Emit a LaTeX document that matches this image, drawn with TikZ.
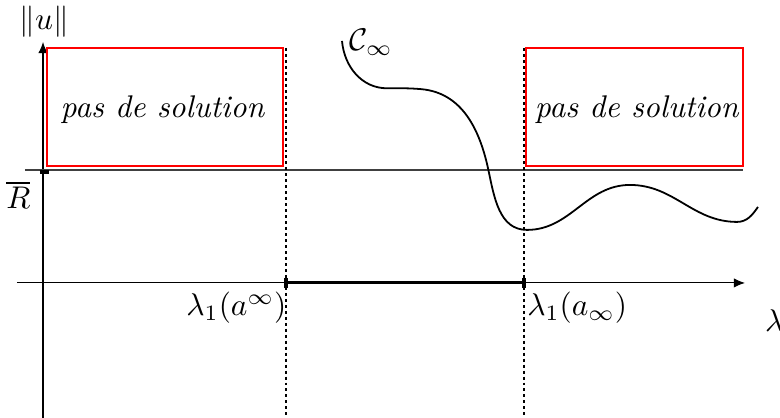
\documentclass[tikz,border=0pt]{standalone}
\usepackage{amsmath,amssymb}
\usepackage{tikz}
\usetikzlibrary{arrows.meta}

\begin{document}
\begin{tikzpicture}[x=1cm,y=1cm,every node/.style={scale=1.05}]
    \useasboundingbox (-0.506,-1.588) rectangle (8.671,3.329);
    % points of the axes
    \coordinate (ybot) at (0,-1.588);
    \coordinate (ytop) at (0,2.835);
    \coordinate (xleft) at (-0.306,0);
    \coordinate (xright) at (8.259,0);
    \coordinate (rleft) at (-0.212,1.329);
    \coordinate (rright) at (8.235,1.329);
    \coordinate (la) at (2.859,0);
    \coordinate (lb) at (5.659,0);
    \draw [line width=0.35pt,-{Latex[length=1.3mm,width=1.1mm]}] (ybot) -- (ytop);
    \draw [line width=0.35pt,-{Latex[length=1.3mm,width=1.1mm]}] (xleft) -- (xright);
    \draw [line width=0.4pt,color=black!75] (rleft) -- (rright);
    \draw [line width=1.3pt] (-0.04,1.31) -- (0.07,1.31);
    \draw [line width=0.35pt,dash pattern=on 1pt off 1pt] (2.859,2.765) -- (2.859,-1.588);
    \draw [line width=0.35pt,dash pattern=on 1pt off 1pt] (5.659,2.765) -- (5.659,-1.588);
    \draw [line width=1pt] (la) -- (lb);
    \draw [line width=1.5pt] (2.859,-0.06) -- (2.859,0.06);
    \draw [line width=1.5pt] (5.659,-0.06) -- (5.659,0.06);
    \draw [line width=0.45pt,color=red] (0.047,1.376) rectangle (2.824,2.765);
    \draw [line width=0.45pt,color=red] (5.682,1.376) rectangle (8.235,2.765);
    % la courbe C_infty
    \draw [line width=0.6pt] (3.518,2.847) to[out=-85,in=180] (4.05,2.29)
        to[out=0,in=175] (4.45,2.28) to[out=-5,in=102] (5.24,1.33)
        to[out=-78,in=180] (5.694,0.624) to[out=0,in=180] (6.906,1.153)
        to[out=0,in=180] (8.165,0.718) to[out=0,in=-125] (8.412,0.894);
    \draw[color=black] (0.012,3.07) node {$\|u\|$};
    \draw[color=black] (-0.29,1.035) node {$\overline{R}$};
    \draw[color=black] (2.87,-0.29) node[anchor=east,inner sep=0pt] {$\lambda_1(a^\infty)$};
    \draw[color=black] (5.69,-0.29) node[anchor=west,inner sep=0pt] {$\lambda_1(a_\infty)$};
    \draw[color=black] (8.49,-0.44) node[anchor=west,inner sep=0pt] {$\lambda$};
    \draw[color=black] (3.86,2.83) node {$\mathcal{C}_\infty$};
    \draw[color=black] (1.41,2.04) node {\textit{pas de solution}};
    \draw[color=black] (6.99,2.04) node {\textit{pas de solution}};
\end{tikzpicture}
\end{document}
